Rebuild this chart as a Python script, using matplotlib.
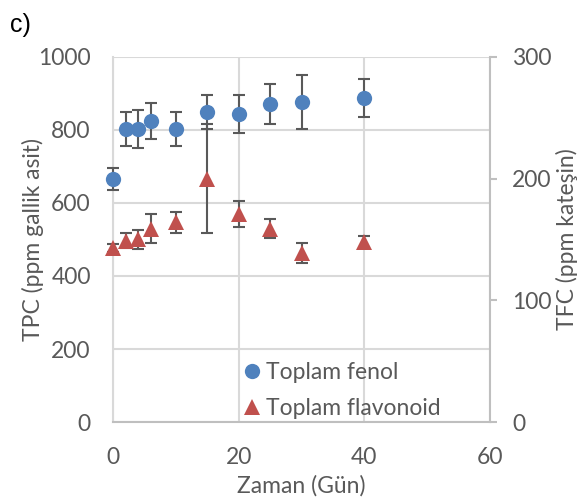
import matplotlib
matplotlib.use("Agg")
import matplotlib.pyplot as plt
from matplotlib.lines import Line2D

# Storage time (days)
days = [0, 2, 4, 6, 10, 15, 20, 25, 30, 40]

# Total phenolic content (ppm gallic acid) and its error
tpc = [666, 803, 803, 825, 803, 849, 844, 871, 877, 888]
tpc_err = [30, 46, 53, 50, 46, 47, 53, 55, 75, 53]

# Total flavonoid content (ppm catechin) and its error
tfc = [143, 149, 150, 159, 164, 200, 171, 159, 139, 148]
tfc_err = [3, 6, 8, 12, 9, 45, 11, 8, 8, 5]

series_labels = ["Toplam fenol", "Toplam flavonoid"]
left_ticks = [0, 200, 400, 600, 800, 1000]
right_ticks = [0, 100, 200, 300]
x_ticks = [0, 20, 40, 60]

BLUE = "#4F81BD"
RED = "#C0504D"
ERR = "#595959"
TEXT = "#595959"
GRID = "#D9D9D9"
AXIS = "#BFBFBF"
FS = 16.5

plt.rcParams["font.family"] = ["Lato", "DejaVu Sans"]

fig = plt.figure(figsize=(5.79, 4.99), dpi=100)
ax = fig.add_axes([0.1952, 0.1543, 0.8463 - 0.1952, 0.8858 - 0.1543])
ax2 = ax.twinx()

eb1 = ax.errorbar(days, tpc, yerr=tpc_err, fmt="o", color=BLUE, ms=11,
                  markeredgecolor=BLUE, ecolor=ERR, elinewidth=1.5,
                  capsize=4.5, capthick=1.5, zorder=3, clip_on=False)
eb2 = ax2.errorbar(days, tfc, yerr=tfc_err, fmt="^", color=RED, ms=11,
                   markeredgecolor=RED, ecolor=ERR, elinewidth=1.5,
                   capsize=4.5, capthick=1.5, zorder=3, clip_on=False)
for eb in (eb1, eb2):
    eb[0].set_markeredgewidth(0)

ax.set_xlim(0, 60)
ax.set_ylim(0, 1000)
ax2.set_ylim(0, 300)
ax.set_xticks(x_ticks)
ax.set_yticks(left_ticks)
ax2.set_yticks(right_ticks)

ax.grid(True, color=GRID, linewidth=1.5, zorder=0)
ax.set_axisbelow(True)

for s in ["top", "right"]:
    ax.spines[s].set_visible(False)
ax.spines["left"].set_color(GRID)
ax.spines["left"].set_linewidth(1.5)
ax.spines["bottom"].set_color(AXIS)
ax.spines["bottom"].set_linewidth(1.5)
for s in ["top", "left", "bottom"]:
    ax2.spines[s].set_visible(False)
ax2.spines["right"].set_color(AXIS)
ax2.spines["right"].set_linewidth(1.5)

ax.tick_params(axis="y", length=0, pad=16, labelsize=FS, labelcolor=TEXT)
ax.tick_params(axis="x", length=0, pad=18, labelsize=FS, labelcolor=TEXT)
ax2.tick_params(axis="y", length=5, width=1.5, color=AXIS, pad=11,
                labelsize=FS, labelcolor=TEXT)

ax.set_ylabel("TPC (ppm gallik asit)", fontsize=FS, color=TEXT, labelpad=-4)
ax.set_xlabel("Zaman (Gün)", fontsize=FS, color=TEXT, labelpad=5)
ax2.set_ylabel("TFC (ppm kateşin)", fontsize=FS, color=TEXT, labelpad=3)

handles = [
    Line2D([], [], marker="o", linestyle="none", color=BLUE, ms=11, markeredgewidth=0),
    Line2D([], [], marker="^", linestyle="none", color=RED, ms=11, markeredgewidth=0),
]
ax2.legend(handles, series_labels, loc="center left",
           bbox_to_anchor=(0.338, 0.086), bbox_transform=ax.transAxes,
           frameon=False, fontsize=FS, labelcolor=TEXT,
           handletextpad=0.1, handlelength=1.0, labelspacing=0.65,
           borderpad=0, borderaxespad=0)

fig.text(0.017, 0.95, "c)", fontsize=18, family=["Liberation Sans", "DejaVu Sans"],
         color="black", ha="left", va="center")

fig.savefig("out.png", dpi=100)
